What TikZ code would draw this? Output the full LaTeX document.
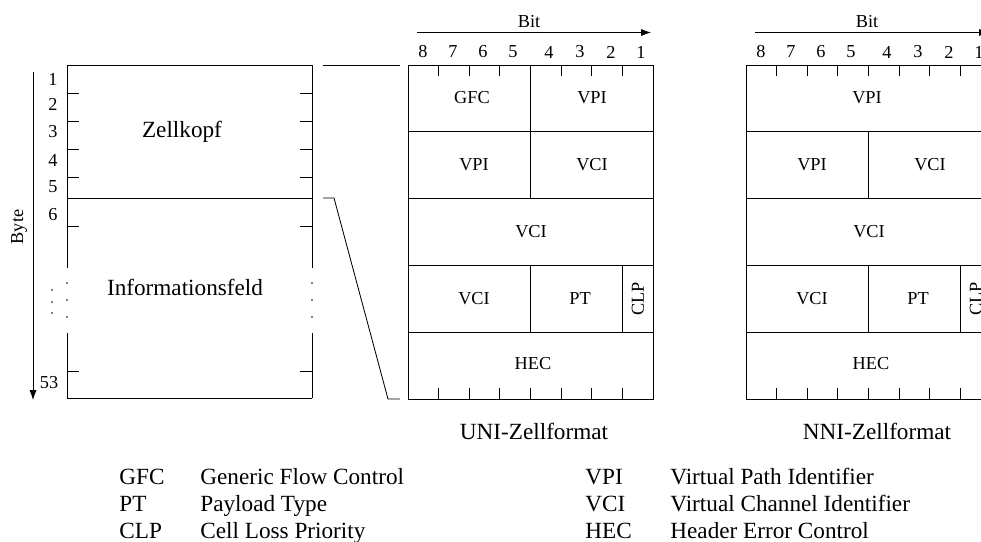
\documentclass[tikz,border=0pt]{standalone}
\usepackage{fontspec}
\setmainfont{Liberation Serif}
\usetikzlibrary{arrows.meta}

\begin{document}
\begin{tikzpicture}[x=0.025cm,y=-0.025cm,line width=0.6pt,
    small/.style={font=\fontsize{13}{15}\selectfont,inner sep=0pt},
    large/.style={font=\fontsize{16.5}{19}\selectfont,inner sep=0pt},
    ptr/.style={-{Latex[length=7pt,width=5pt]}}]
  % pixel coordinates, y grows downwards
  \useasboundingbox (0,0) rectangle (981,541);
  \clip (0,0) rectangle (981,541);

  % ---- whole cell on the left ----
  \draw (67,65) -- (312,65);
  \draw (67,198) -- (312,198);
  \draw (67,398) -- (312,398);
  \foreach \x in {67,312} {
    \draw (\x,65) -- (\x,268);
    \draw (\x,333) -- (\x,398);
    \foreach \y in {283,300,317} \fill (\x,\y) circle (0.7pt);
  }
  \foreach \y in {93,121,149,177,226,371} {
    \draw (67,\y) -- (79,\y);
    \draw (300,\y) -- (312,\y);
  }
  % byte numbers
  \foreach \y/\n in {79/1,104/2,132/3,160/4,187/5,215/6}
    \node[small] (byte\n) at (53,\y) {\n};
  \node[small] (byte53) at (49,383) {53};
  \foreach \y in {290,302,313} \fill (52,\y) circle (0.7pt);
  \node[small,rotate=90] (bytelbl) at (19,227) {Byte};
  \coordinate (bytetop) at (33,72);
  \coordinate (bytebot) at (33,400);
  \draw[ptr] (bytetop) -- (bytebot);
  \node[large] (kopf) at (182,132) {Zellkopf};
  \node[large] (info) at (185,287) {Informationsfeld};

  % header is blown up to the right
  \coordinate (zt1) at (323,65);
  \coordinate (zt2) at (400,65);
  \coordinate (zb1) at (323,198);
  \coordinate (zb2) at (334,198);
  \coordinate (zb3) at (388,399);
  \coordinate (zb4) at (400,399);
  \draw (zt1) -- (zt2);
  \draw (zb1) -- (zb2) -- (zb3) -- (zb4);

  % ---- UNI and NNI header, same grid ----
  \foreach \s/\f in {0/uni,338/nni} {
    \begin{scope}[shift={(\s,0)}]
      \draw (408,65) rectangle (653,399);
      \foreach \y in {131.8,198.6,265.4,332.2} \draw (408,\y) -- (653,\y);
      \draw (530.5,131.8) -- (530.5,198.6);
      \draw (530.5,265.4) -- (530.5,332.2);
      \draw (622.4,265.4) -- (622.4,332.2);
      \foreach \x in {438.6,469.25,499.9,530.5,561.1,591.75,622.4} {
        \draw (\x,65) -- (\x,76);
        \draw (\x,388) -- (\x,399);
      }
      % bit numbers
      \foreach \x/\b in {423/8,453/7,483/6,513/5,549/4,580/3,611/2,641/1}
        \node[small] (\f-bit\b) at (\x,52) {\b};
      \node[small] (\f-bit) at (529,22) {Bit};
      \coordinate (\f-a) at (417,32.5);
      \coordinate (\f-b) at (651,32.5);
      \draw[ptr] (\f-a) -- (\f-b);
      % fields of rows 2 to 5
      \node[small] (\f-vpi2) at (474,165) {VPI};
      \node[small] (\f-vci2) at (592,165) {VCI};
      \node[small] (\f-vci3) at (531,232) {VCI};
      \node[small] (\f-vci4) at (474,299) {VCI};
      \node[small] (\f-pt) at (580,299) {PT};
      \node[small,rotate=90] (\f-clp) at (638,299) {CLP};
      \node[small] (\f-hec) at (533,364) {HEC};
    \end{scope}
  }
  % first row differs
  \draw (530.5,65) -- (530.5,131.8);
  \node[small] (uni-gfc) at (472,98) {GFC};
  \node[small] (uni-vpi1) at (592,98) {VPI};
  \node[small] (nni-vpi1) at (867,98) {VPI};

  \node[large] (uni) at (534,431) {UNI-Zellformat};
  \node[large] (nni) at (877,431) {NNI-Zellformat};

  % legend
  \foreach \y/\a/\t [count=\i] in {484/GFC/Generic Flow Control,
      511/PT/Payload Type, 538/CLP/Cell Loss Priority} {
    \node[large,anchor=base west] (abbl\i) at (119,\y) {\a};
    \node[large,anchor=base west] (desl\i) at (200,\y) {\t};
  }
  \foreach \y/\a/\t [count=\i] in {484/VPI/Virtual Path Identifier,
      511/VCI/Virtual Channel Identifier, 538/HEC/Header Error Control} {
    \node[large,anchor=base west] (abbr\i) at (585,\y) {\a};
    \node[large,anchor=base west] (desr\i) at (670,\y) {\t};
  }
\end{tikzpicture}
\end{document}
